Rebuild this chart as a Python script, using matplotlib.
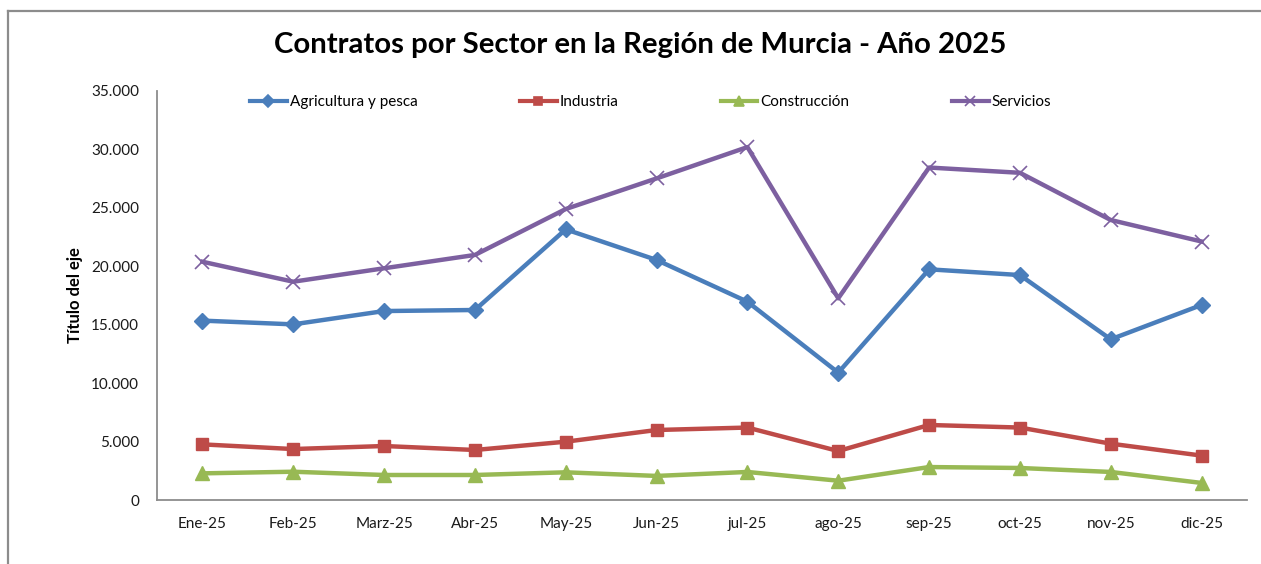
import matplotlib
matplotlib.use("Agg")
import matplotlib.pyplot as plt
from matplotlib.ticker import FuncFormatter, MultipleLocator
from matplotlib.lines import Line2D

months = ["Ene-25", "Feb-25", "Marz-25", "Abr-25", "May-25", "Jun-25",
          "jul-25", "ago-25", "sep-25", "oct-25", "nov-25", "dic-25"]
agricultura = [15350, 15030, 16170, 16260, 23160, 20540, 16970, 10900, 19740, 19250, 13750, 16690]
industria = [4760, 4360, 4620, 4280, 4990, 5990, 6200, 4190, 6420, 6200, 4820, 3800]
construccion = [2280, 2420, 2140, 2140, 2370, 2060, 2400, 1650, 2820, 2740, 2400, 1460]
servicios = [20390, 18680, 19830, 20970, 24900, 27520, 30200, 17260, 28450, 28000, 23960, 22120]
series_names = ["Agricultura y pesca", "Industria", "Construcción", "Servicios"]
title = "Contratos por Sector en la Región de Murcia - Año 2025"
ylabel = "Título del eje"

plt.rcParams['font.family'] = ['Lato', 'DejaVu Sans']

W, H = 1261, 564
fig = plt.figure(figsize=(W / 100, H / 100), dpi=100)

# chart frame (top and left edges visible)
fig.add_artist(Line2D([8 / W, 1.0], [1 - 11 / H, 1 - 11 / H], transform=fig.transFigure,
                      color="#8c8c8c", linewidth=1.6))
fig.add_artist(Line2D([8 / W, 8 / W], [0.0, 1 - 11 / H], transform=fig.transFigure,
                      color="#8c8c8c", linewidth=1.6))

ax = fig.add_axes([157 / W, (H - 500) / H, (1247 - 157) / W, (500 - 91) / H])

styles = [
    (agricultura, "#4A7EBB", "D", 8.5),
    (industria, "#BE4B48", "s", 8.5),
    (construccion, "#98B954", "^", 9.5),
    (servicios, "#7D60A0", "x", 10.5),
]
x = list(range(len(months)))
for (vals, col, mk, ms), name in zip(styles, series_names):
    if mk == "x":
        ax.plot(x, vals, color=col, linewidth=3.2, marker=mk, markersize=ms,
                markeredgewidth=1.2, label=name, solid_joinstyle="round")
    else:
        ax.plot(x, vals, color=col, linewidth=3.2, marker=mk, markersize=ms,
                markeredgecolor=col, label=name, solid_joinstyle="round")

ax.set_xlim(-0.5, len(months) - 0.5)
ax.set_ylim(0, 35000)
ax.yaxis.set_major_locator(MultipleLocator(5000))
ax.yaxis.set_major_formatter(FuncFormatter(lambda v, p: f"{int(v):,}".replace(",", ".")))
ax.set_xticks(x)
ax.set_xticklabels(months)
ax.tick_params(axis="both", length=0, labelsize=11, colors="#1a1a1a")
ax.tick_params(axis="x", pad=12)
ax.tick_params(axis="y", pad=13)
for s in ["top", "right"]:
    ax.spines[s].set_visible(False)
for s in ["left", "bottom"]:
    ax.spines[s].set_color("#8c8c8c")
    ax.spines[s].set_linewidth(1.3)

fig.text(75 / W, 1 - 295 / H, ylabel, rotation=90, ha="center", va="center",
         fontsize=12, fontweight="bold")

handles = []
for (vals, col, mk, ms), name in zip(styles, series_names):
    handles.append(Line2D([], [], color=col, linewidth=3, marker=mk,
                          markersize=ms * 0.75, markeredgecolor=col, markeredgewidth=1.2))
fig.legend(handles, series_names, loc="center left", bbox_to_anchor=(250 / W, 1 - 102 / H),
           ncol=4, frameon=False, fontsize=11, handlelength=2.4, handletextpad=0.2,
           columnspacing=6.7, borderaxespad=0, borderpad=0)

fig.text(640 / W, 1 - 45 / H, title, ha="center", va="center", fontsize=21.2, fontweight="bold")

fig.savefig("out.png", dpi=100)
